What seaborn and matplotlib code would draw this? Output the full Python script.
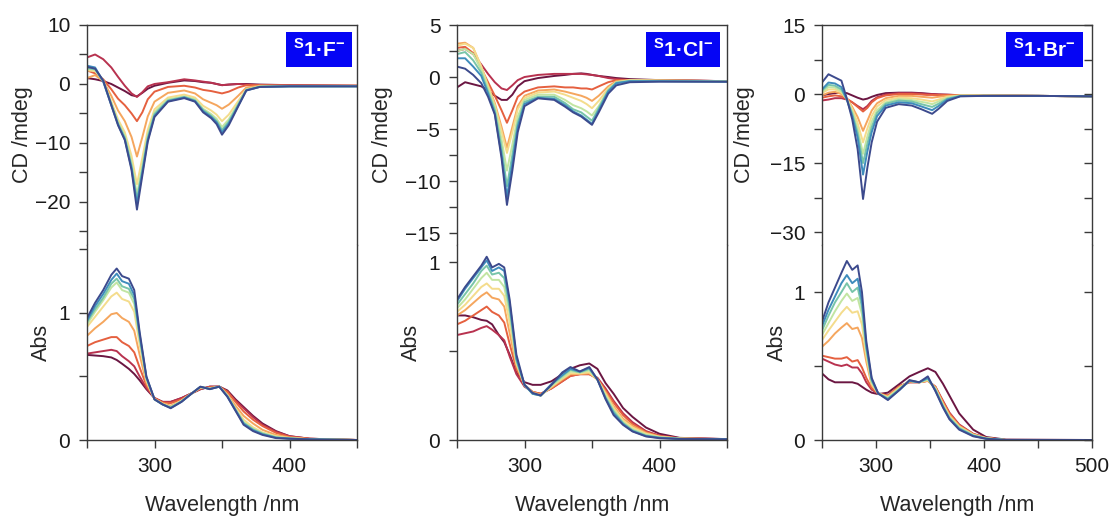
import matplotlib
matplotlib.use("Agg")
import matplotlib.pyplot as plt
from matplotlib.ticker import MultipleLocator
from matplotlib.patches import Rectangle
import pandas as pd
import seaborn as sns

# ---------------- data ----------------
# titration curves, index 0 = free host (dark maroon) ... 8 = last addition (navy)
WL_CD = [250, 256, 262, 268, 273, 278, 283, 287, 291, 295, 300, 310, 322, 330,
         336, 342, 346, 350, 355, 362, 368, 378, 400, 450]
WL_ABS = [250, 256, 262, 268, 272, 276, 281, 285, 289, 294, 300, 306, 312, 320,
          328, 334, 341, 348, 354, 360, 366, 373, 380, 390, 400, 415, 450]
WL_BR_CD = [250, 256, 262, 268, 273, 278, 283, 288, 292, 296, 301, 309, 321, 333,
            342, 347, 352, 358, 366, 378, 400, 450, 500]
WL_BR_ABS = [250, 256, 262, 268, 273, 278, 283, 287, 291, 296, 302, 311, 322, 331,
             340, 348, 355, 362, 368, 377, 390, 402, 420, 500]

F_CD = [
    [1.0, 0.8, 0.5, 0.0, -0.6, -1.2, -1.9, -2.1, -1.5, -0.8, -0.3, 0.2, 0.6, 0.5, 0.3, 0.2, 0.0, -0.2, -0.1, 0.0, 0.0, -0.1, -0.2, -0.3],
    [4.5, 5.0, 4.2, 2.8, 1.2, -0.3, -1.6, -2.2, -1.4, -0.4, 0.0, 0.3, 0.8, 0.6, 0.4, 0.2, 0.0, -0.2, -0.1, 0.0, -0.1, -0.2, -0.2, -0.3],
    [2.3, 1.8, 0.8, -0.9, -2.5, -3.6, -5.0, -6.3, -4.8, -2.6, -1.3, -0.5, -0.3, -0.6, -1.0, -1.2, -1.4, -1.6, -1.3, -0.6, -0.2, -0.2, -0.3, -0.3],
    [1.0, 1.5, 0.5, -2.0, -4.5, -6.3, -9.0, -12.3, -9.0, -5.5, -3.0, -1.5, -1.1, -1.6, -2.6, -3.2, -3.6, -4.2, -3.5, -2.0, -0.6, -0.3, -0.3, -0.3],
    [2.3, 2.2, 0.5, -3.0, -6.0, -8.2, -12.2, -17.0, -12.5, -7.8, -4.3, -2.3, -1.8, -2.3, -3.7, -4.5, -5.2, -6.3, -5.2, -2.9, -0.9, -0.4, -0.35, -0.35],
    [2.6, 2.4, 0.6, -3.3, -6.5, -8.8, -13.3, -18.8, -13.8, -8.6, -4.8, -2.6, -2.1, -2.6, -4.2, -5.1, -5.9, -7.3, -6.0, -3.3, -1.0, -0.45, -0.4, -0.4],
    [2.7, 2.5, 0.5, -3.4, -6.7, -9.1, -13.9, -19.6, -14.5, -9.1, -5.1, -2.8, -2.2, -2.8, -4.4, -5.4, -6.3, -7.8, -6.4, -3.5, -1.0, -0.45, -0.4, -0.4],
    [3.1, 2.8, 0.4, -3.6, -6.9, -9.4, -14.3, -20.3, -15.0, -9.5, -5.4, -2.9, -2.3, -2.9, -4.6, -5.6, -6.5, -8.2, -6.7, -3.7, -1.1, -0.5, -0.4, -0.4],
    [2.9, 2.6, 0.6, -3.6, -7.0, -9.5, -14.6, -21.3, -15.5, -9.8, -5.6, -3.0, -2.4, -3.0, -4.8, -5.8, -6.8, -8.6, -7.0, -3.8, -1.1, -0.5, -0.4, -0.4],
]
F_ABS = [
    [0.67, 0.665, 0.66, 0.65, 0.63, 0.60, 0.56, 0.52, 0.47, 0.40, 0.33, 0.30, 0.30, 0.33, 0.37, 0.40, 0.42, 0.42, 0.39, 0.32, 0.26, 0.19, 0.13, 0.07, 0.03, 0.01, 0.0],
    [0.68, 0.69, 0.70, 0.71, 0.70, 0.66, 0.62, 0.58, 0.50, 0.41, 0.33, 0.30, 0.30, 0.33, 0.37, 0.40, 0.42, 0.42, 0.38, 0.31, 0.25, 0.18, 0.12, 0.065, 0.03, 0.01, 0.0],
    [0.74, 0.77, 0.79, 0.81, 0.81, 0.77, 0.74, 0.69, 0.57, 0.43, 0.33, 0.295, 0.29, 0.32, 0.37, 0.405, 0.415, 0.42, 0.38, 0.30, 0.225, 0.16, 0.11, 0.056, 0.025, 0.01, 0.0],
    [0.82, 0.88, 0.93, 0.99, 1.00, 0.96, 0.93, 0.86, 0.67, 0.45, 0.325, 0.29, 0.27, 0.31, 0.37, 0.41, 0.41, 0.42, 0.36, 0.27, 0.19, 0.13, 0.08, 0.04, 0.02, 0.007, 0.0],
    [0.89, 0.97, 1.05, 1.13, 1.16, 1.11, 1.09, 1.01, 0.75, 0.47, 0.32, 0.285, 0.26, 0.31, 0.37, 0.415, 0.405, 0.42, 0.35, 0.25, 0.16, 0.10, 0.06, 0.03, 0.015, 0.006, 0.0],
    [0.91, 1.01, 1.10, 1.20, 1.24, 1.18, 1.16, 1.07, 0.79, 0.48, 0.32, 0.28, 0.26, 0.305, 0.37, 0.417, 0.403, 0.42, 0.35, 0.24, 0.14, 0.09, 0.055, 0.024, 0.013, 0.006, 0.0],
    [0.93, 1.03, 1.12, 1.23, 1.27, 1.21, 1.19, 1.11, 0.81, 0.49, 0.32, 0.28, 0.255, 0.303, 0.37, 0.418, 0.402, 0.42, 0.345, 0.24, 0.135, 0.083, 0.05, 0.021, 0.012, 0.005, 0.0],
    [0.94, 1.055, 1.15, 1.26, 1.31, 1.25, 1.23, 1.14, 0.83, 0.494, 0.32, 0.28, 0.253, 0.302, 0.37, 0.419, 0.401, 0.42, 0.343, 0.235, 0.128, 0.077, 0.045, 0.018, 0.011, 0.005, 0.0],
    [0.96, 1.08, 1.18, 1.30, 1.35, 1.29, 1.27, 1.18, 0.85, 0.50, 0.32, 0.28, 0.25, 0.30, 0.37, 0.42, 0.40, 0.42, 0.34, 0.23, 0.12, 0.07, 0.04, 0.015, 0.01, 0.005, 0.0],
]

CL_CD = [
    [-1.0, -0.5, -0.7, -0.9, -1.3, -1.8, -2.2, -2.2, -1.7, -0.9, -0.4, -0.1, 0.1, 0.2, 0.3, 0.35, 0.3, 0.2, 0.1, 0.0, -0.1, -0.2, -0.3, -0.4],
    [2.5, 2.7, 2.2, 1.2, 0.3, -0.5, -1.1, -1.25, -0.8, -0.3, 0.0, 0.2, 0.3, 0.3, 0.3, 0.3, 0.25, 0.2, 0.1, -0.1, -0.2, -0.3, -0.3, -0.4],
    [2.8, 2.9, 2.3, 0.8, -0.5, -1.8, -3.2, -4.4, -3.2, -1.9, -1.4, -1.0, -0.9, -1.0, -1.0, -1.1, -1.1, -1.2, -0.9, -0.5, -0.3, -0.3, -0.3, -0.4],
    [3.2, 3.3, 2.8, 1.0, -0.8, -2.5, -4.8, -6.8, -4.8, -2.8, -1.8, -1.3, -1.2, -1.4, -1.6, -1.8, -2.0, -2.3, -1.8, -0.9, -0.4, -0.3, -0.35, -0.4],
    [3.0, 3.2, 2.8, 1.0, -0.9, -2.7, -5.2, -7.3, -5.3, -3.1, -2.0, -1.5, -1.4, -1.7, -2.0, -2.3, -2.6, -3.0, -2.3, -1.1, -0.5, -0.3, -0.35, -0.4],
    [2.5, 2.7, 2.2, 0.7, -1.1, -2.9, -6.0, -9.0, -6.5, -3.8, -2.2, -1.7, -1.7, -2.2, -2.7, -3.0, -3.3, -3.7, -2.8, -1.2, -0.5, -0.35, -0.35, -0.4],
    [2.2, 2.4, 1.6, 0.4, -1.4, -3.2, -6.8, -10.5, -7.5, -4.4, -2.4, -1.9, -1.9, -2.5, -3.1, -3.4, -3.8, -4.2, -3.0, -1.3, -0.55, -0.4, -0.4, -0.45],
    [1.8, 1.8, 1.0, 0.1, -1.6, -3.5, -7.5, -11.5, -8.3, -4.8, -2.6, -2.0, -2.1, -2.7, -3.3, -3.7, -4.1, -4.5, -3.2, -1.4, -0.6, -0.4, -0.4, -0.45],
    [1.0, 0.8, 0.2, -0.6, -1.9, -3.6, -7.8, -12.3, -9.0, -5.3, -2.8, -2.05, -2.2, -2.85, -3.4, -3.8, -4.2, -4.6, -3.4, -1.6, -0.8, -0.5, -0.45, -0.45],
]
CL_ABS = [
    [0.70, 0.70, 0.69, 0.675, 0.67, 0.65, 0.59, 0.55, 0.48, 0.38, 0.325, 0.31, 0.31, 0.33, 0.37, 0.40, 0.42, 0.43, 0.40, 0.32, 0.26, 0.18, 0.13, 0.07, 0.035, 0.012, 0.005],
    [0.59, 0.60, 0.61, 0.63, 0.64, 0.62, 0.59, 0.56, 0.47, 0.37, 0.30, 0.27, 0.26, 0.29, 0.33, 0.36, 0.37, 0.37, 0.35, 0.29, 0.22, 0.15, 0.10, 0.05, 0.025, 0.01, 0.005],
    [0.65, 0.67, 0.70, 0.73, 0.75, 0.72, 0.70, 0.66, 0.54, 0.40, 0.31, 0.27, 0.26, 0.29, 0.33, 0.36, 0.37, 0.37, 0.345, 0.28, 0.21, 0.14, 0.09, 0.045, 0.022, 0.009, 0.005],
    [0.70, 0.73, 0.77, 0.81, 0.83, 0.80, 0.79, 0.75, 0.60, 0.42, 0.31, 0.27, 0.255, 0.295, 0.34, 0.37, 0.37, 0.375, 0.34, 0.27, 0.19, 0.12, 0.08, 0.04, 0.02, 0.008, 0.004],
    [0.72, 0.76, 0.81, 0.86, 0.88, 0.85, 0.85, 0.81, 0.66, 0.43, 0.31, 0.265, 0.25, 0.30, 0.345, 0.375, 0.375, 0.38, 0.34, 0.26, 0.18, 0.11, 0.07, 0.035, 0.018, 0.008, 0.004],
    [0.74, 0.79, 0.85, 0.91, 0.94, 0.90, 0.90, 0.86, 0.71, 0.44, 0.31, 0.26, 0.25, 0.305, 0.35, 0.385, 0.38, 0.39, 0.34, 0.25, 0.17, 0.10, 0.06, 0.03, 0.016, 0.007, 0.004],
    [0.76, 0.82, 0.88, 0.95, 0.98, 0.93, 0.94, 0.91, 0.74, 0.45, 0.31, 0.26, 0.25, 0.31, 0.36, 0.395, 0.38, 0.40, 0.34, 0.24, 0.16, 0.095, 0.055, 0.025, 0.014, 0.007, 0.004],
    [0.78, 0.85, 0.91, 0.97, 1.01, 0.95, 0.97, 0.95, 0.77, 0.46, 0.31, 0.26, 0.25, 0.315, 0.365, 0.40, 0.385, 0.405, 0.34, 0.235, 0.15, 0.09, 0.05, 0.022, 0.012, 0.006, 0.004],
    [0.79, 0.86, 0.92, 0.98, 1.03, 0.97, 0.99, 0.97, 0.79, 0.48, 0.31, 0.265, 0.25, 0.31, 0.38, 0.41, 0.385, 0.41, 0.34, 0.23, 0.14, 0.085, 0.048, 0.02, 0.01, 0.006, 0.004],
]

BR_CD = [
    [-0.3, 0.0, 0.2, 0.3, 0.2, -0.3, -0.8, -1.2, -1.0, -0.6, -0.2, 0.2, 0.3, 0.3, 0.2, 0.1, 0.0, -0.1, -0.15, -0.25, -0.3, -0.4, -0.5],
    [-1.4, -1.2, -0.9, -0.9, -1.2, -1.8, -2.6, -3.3, -2.6, -1.5, -0.7, -0.1, 0.2, 0.2, 0.1, 0.0, 0.0, -0.1, -0.15, -0.25, -0.3, -0.4, -0.5],
    [-0.8, -0.5, -0.3, -0.5, -1.0, -1.8, -2.8, -3.8, -3.0, -1.8, -0.9, -0.3, 0.0, 0.0, -0.1, -0.2, -0.2, -0.2, -0.2, -0.25, -0.3, -0.4, -0.5],
    [-0.3, 0.3, 0.5, 0.0, -1.0, -2.8, -5.0, -8.0, -5.8, -3.6, -2.0, -0.9, -0.4, -0.4, -0.6, -0.7, -0.8, -0.6, -0.4, -0.3, -0.3, -0.4, -0.5],
    [0.2, 1.0, 1.0, 0.3, -1.0, -3.2, -6.3, -10.5, -7.5, -4.8, -2.7, -1.3, -0.8, -0.9, -1.2, -1.4, -1.6, -1.2, -0.6, -0.3, -0.35, -0.4, -0.5],
    [0.5, 1.5, 1.4, 0.6, -1.1, -3.8, -7.5, -13.0, -9.2, -6.0, -3.5, -1.8, -1.1, -1.3, -1.7, -1.9, -2.2, -1.6, -0.8, -0.35, -0.35, -0.4, -0.5],
    [0.8, 2.0, 1.8, 1.0, -1.2, -4.3, -8.5, -15.0, -10.8, -7.2, -4.1, -2.1, -1.4, -1.6, -2.2, -2.5, -2.8, -2.1, -1.0, -0.4, -0.4, -0.4, -0.5],
    [1.0, 2.5, 2.3, 1.5, -1.2, -4.8, -9.5, -17.5, -12.5, -8.3, -4.8, -2.5, -1.8, -2.0, -2.7, -3.1, -3.5, -2.6, -1.2, -0.45, -0.4, -0.4, -0.5],
    [2.5, 4.3, 3.6, 2.9, -1.0, -5.5, -12.0, -22.8, -16.0, -10.5, -6.0, -3.0, -2.2, -2.5, -3.3, -3.8, -4.3, -3.2, -1.5, -0.5, -0.4, -0.4, -0.5],
]
BR_ABS = [
    [0.45, 0.41, 0.39, 0.39, 0.39, 0.39, 0.38, 0.36, 0.34, 0.32, 0.31, 0.32, 0.38, 0.43, 0.46, 0.485, 0.46, 0.38, 0.30, 0.18, 0.07, 0.02, 0.003, 0.0],
    [0.55, 0.53, 0.51, 0.50, 0.51, 0.49, 0.49, 0.45, 0.39, 0.34, 0.315, 0.30, 0.365, 0.39, 0.39, 0.40, 0.36, 0.265, 0.185, 0.105, 0.042, 0.015, 0.0, 0.0],
    [0.57, 0.56, 0.55, 0.55, 0.56, 0.53, 0.54, 0.49, 0.42, 0.35, 0.315, 0.30, 0.365, 0.39, 0.39, 0.40, 0.36, 0.26, 0.18, 0.10, 0.04, 0.014, 0.0, 0.0],
    [0.63, 0.67, 0.72, 0.76, 0.79, 0.75, 0.76, 0.69, 0.53, 0.37, 0.315, 0.295, 0.36, 0.395, 0.39, 0.40, 0.355, 0.25, 0.17, 0.095, 0.038, 0.013, 0.0, 0.0],
    [0.675, 0.74, 0.80, 0.86, 0.90, 0.86, 0.87, 0.78, 0.57, 0.38, 0.315, 0.29, 0.355, 0.40, 0.39, 0.405, 0.35, 0.24, 0.16, 0.09, 0.035, 0.012, 0.0, 0.0],
    [0.71, 0.79, 0.87, 0.94, 0.99, 0.94, 0.96, 0.85, 0.60, 0.39, 0.315, 0.285, 0.35, 0.40, 0.39, 0.41, 0.345, 0.235, 0.155, 0.085, 0.033, 0.011, 0.0, 0.0],
    [0.74, 0.84, 0.93, 1.00, 1.06, 1.00, 1.03, 0.90, 0.62, 0.40, 0.315, 0.28, 0.345, 0.40, 0.39, 0.415, 0.34, 0.23, 0.15, 0.08, 0.03, 0.01, 0.0, 0.0],
    [0.77, 0.88, 0.97, 1.06, 1.115, 1.06, 1.09, 0.94, 0.64, 0.41, 0.315, 0.275, 0.34, 0.40, 0.39, 0.42, 0.335, 0.225, 0.145, 0.075, 0.028, 0.009, 0.0, 0.0],
    [0.80, 0.93, 1.03, 1.13, 1.21, 1.15, 1.18, 1.00, 0.67, 0.42, 0.315, 0.27, 0.34, 0.405, 0.39, 0.43, 0.33, 0.22, 0.14, 0.07, 0.025, 0.008, 0.0, 0.0],
]

LABELS = [r'$^{\mathbf{S}}$1·F$^{\mathbf{-}}$',
          r'$^{\mathbf{S}}$1·Cl$^{\mathbf{-}}$',
          r'$^{\mathbf{S}}$1·Br$^{\mathbf{-}}$']
COLORS = ['#6b1642', '#b8324f', '#e5603f', '#f5a65e', '#f4dc8c',
          '#c2e5a2', '#78c5a9', '#3e8cbc', '#3c4a8d']

# ---------------- style ----------------
sns.set_style('ticks')
plt.rcParams['font.family'] = ['Liberation Sans', 'DejaVu Sans']
plt.rcParams['mathtext.fontset'] = 'custom'
plt.rcParams['mathtext.rm'] = 'Liberation Sans'
plt.rcParams['mathtext.bf'] = 'Liberation Sans:bold'
plt.rcParams['axes.edgecolor'] = '#3a3a3a'
plt.rcParams['axes.linewidth'] = 1.0
plt.rcParams['text.color'] = '#1a1a1a'

W, H = 1116, 519
fig = plt.figure(figsize=(W / 100, H / 100), dpi=100)
PALETTE = {f'c{i}': c for i, c in enumerate(COLORS)}


def to_df(wl, curves):
    rows = []
    for i, c in enumerate(curves):
        for x, y in zip(wl, c):
            rows.append((x, y, f'c{i}'))
    return pd.DataFrame(rows, columns=['wl', 'val', 'curve'])


def box(l, r, t, b):
    return [l / W, 1 - b / H, (r - l) / W, (b - t) / H]


panels = [
    dict(l=87, r=357, wl_cd=WL_CD, cd=F_CD, wl_ab=WL_ABS, ab=F_ABS, xmax=450,
         cdlim=(-27.3, 10), cdmaj=10, ablim=(0, 1.535), label=LABELS[0],
         bx=0.737, bw=0.244, right=False, cdlab=-0.20, ablab=-0.128),
    dict(l=457, r=727, wl_cd=WL_CD, cd=CL_CD, wl_ab=WL_ABS, ab=CL_ABS, xmax=450,
         cdlim=(-16.15, 5), cdmaj=5, ablim=(0, 1.096), label=LABELS[1],
         bx=0.70, bw=0.274, right=False, cdlab=-0.237, ablab=-0.13),
    dict(l=822, r=1092, wl_cd=WL_BR_CD, cd=BR_CD, wl_ab=WL_BR_ABS, ab=BR_ABS, xmax=500,
         cdlim=(-32.8, 15), cdmaj=15, ablim=(0, 1.318), label=LABELS[2],
         bx=0.681, bw=0.285, right=True, cdlab=-0.248, ablab=-0.126),
]

TOP, MID, BOT = 25, 245, 440
TICK_FS = 15
LAB_FS = 15.5
EDGE = '#3a3a3a'

for p in panels:
    ax_cd = fig.add_axes(box(p['l'], p['r'], TOP, MID))
    ax_ab = fig.add_axes(box(p['l'], p['r'], MID, BOT))

    sns.lineplot(data=to_df(p['wl_cd'], p['cd']), x='wl', y='val', hue='curve',
                 palette=PALETTE, estimator=None, sort=False, legend=False,
                 linewidth=1.4, ax=ax_cd)
    sns.lineplot(data=to_df(p['wl_ab'], p['ab']), x='wl', y='val', hue='curve',
                 palette=PALETTE, estimator=None, sort=False, legend=False,
                 linewidth=1.4, ax=ax_ab)

    for ax in (ax_cd, ax_ab):
        ax.set_xlim(250, p['xmax'])
        ax.xaxis.set_major_locator(MultipleLocator(100))
        ax.xaxis.set_minor_locator(MultipleLocator(50))
        ax.tick_params(axis='both', which='both', direction='out', length=6,
                       width=1, color=EDGE, labelsize=TICK_FS, pad=6,
                       labelcolor='#1a1a1a', left=True, bottom=True,
                       right=False, top=False)
        for s in ax.spines.values():
            s.set_color(EDGE)

    ax_cd.set_ylim(*p['cdlim'])
    ax_cd.yaxis.set_major_locator(MultipleLocator(p['cdmaj']))
    ax_cd.yaxis.set_minor_locator(MultipleLocator(p['cdmaj'] / 2))
    ax_cd.spines['bottom'].set_visible(False)
    ax_cd.tick_params(axis='x', which='both', bottom=False, labelbottom=False)
    ax_cd.set_xlabel('')
    ax_cd.set_ylabel('CD /mdeg', fontsize=LAB_FS)
    ax_cd.yaxis.set_label_coords(p['cdlab'], 0.5)

    ax_ab.set_ylim(*p['ablim'])
    ax_ab.yaxis.set_major_locator(MultipleLocator(1))
    ax_ab.yaxis.set_minor_locator(MultipleLocator(0.5))
    ax_ab.spines['top'].set_visible(False)
    ax_ab.set_ylabel('Abs', fontsize=LAB_FS)
    ax_ab.yaxis.set_label_coords(p['ablab'], 0.5)
    ax_ab.set_xlabel('Wavelength /nm', fontsize=LAB_FS, labelpad=14)

    if p['right']:
        for ax, maj in ((ax_cd, p['cdmaj']), (ax_ab, 1)):
            tw = ax.twinx()
            tw.set_ylim(ax.get_ylim())
            tw.yaxis.set_major_locator(MultipleLocator(maj))
            tw.yaxis.set_minor_locator(MultipleLocator(maj / 2))
            tw.tick_params(axis='y', which='both', direction='in', length=6,
                           width=1, color=EDGE, right=True, left=False,
                           labelright=False, labelleft=False)
            for s in tw.spines.values():
                s.set_visible(False)

    ax_cd.add_patch(Rectangle((p['bx'], 0.809), p['bw'], 0.159,
                              transform=ax_cd.transAxes, facecolor='#0505f5',
                              edgecolor='none', zorder=5))
    ax_cd.text(p['bx'] + p['bw'] / 2, 0.809 + 0.159 / 2, p['label'],
               transform=ax_cd.transAxes, ha='center', va='center',
               color='white', fontsize=15, fontweight='bold', zorder=6)

fig.savefig('out.png', dpi=100)
